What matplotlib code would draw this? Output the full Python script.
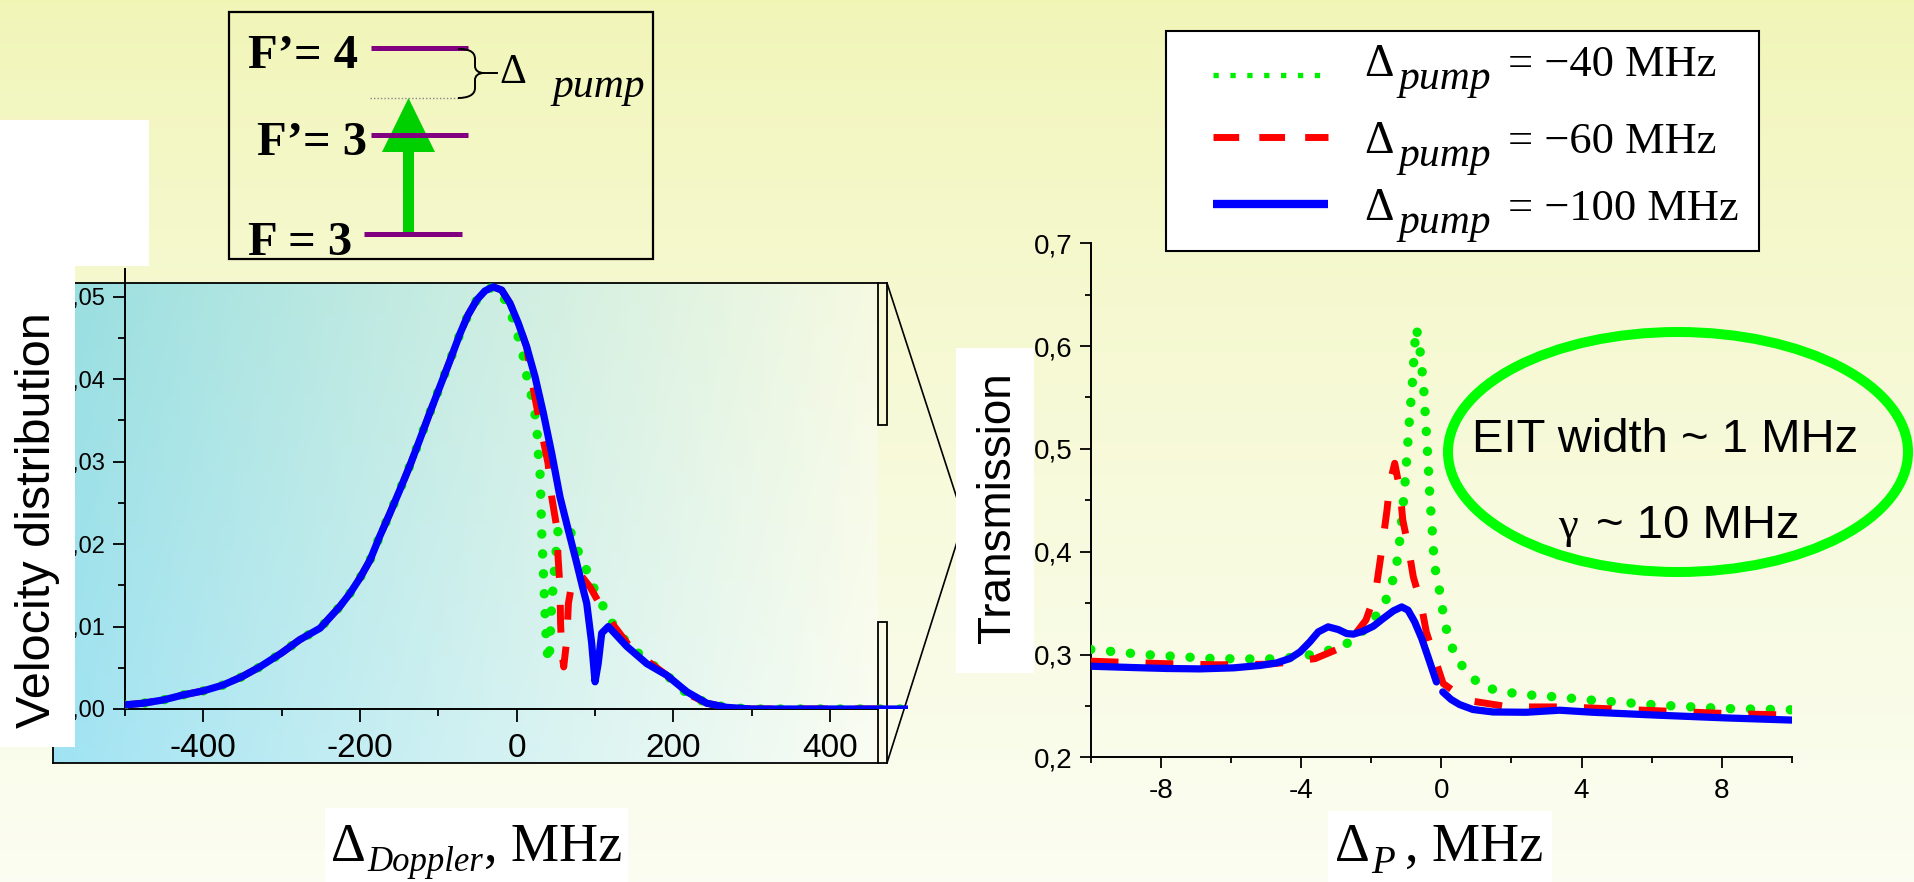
import numpy as np
import matplotlib
matplotlib.use("Agg")
import matplotlib.pyplot as plt
from matplotlib.patches import Rectangle, Ellipse, Polygon, PathPatch
from matplotlib.path import Path
from matplotlib.ticker import FixedLocator, FuncFormatter

W, H, DPI = 1915, 882, 100
SERIF = "Liberation Serif"
SANS = "Liberation Sans"

# ---------------- data ----------------
pump_detuning = [-40, -60, -100]                 # MHz, one per curve
series_color = ["#00ee00", "#ff0000", "#0000ff"]

# Doppler (velocity) distribution: common far wing, MHz / a.u.
wing_x = [-500, -477, -451, -426, -400, -375, -351, -328, -300, -277, -251, -226, -213, -200, -187, -175,
          -162, -149, -136, -124, -111, -98, -85, -72, -62, -51, -40.5, -30]
wing_y = [0.0005, 0.0007, 0.0011, 0.0017, 0.0022, 0.0029, 0.0039, 0.0051, 0.0068, 0.0084, 0.0098, 0.0124,
          0.0140, 0.0159, 0.0181, 0.0209, 0.0237, 0.0266, 0.0296, 0.0326, 0.0359, 0.0391, 0.0423, 0.0456,
          0.0478, 0.0496, 0.0507, 0.0512]

# hole-burnt part of the distribution for each pump detuning
dopp40_x = [-17, -6, 2, 8.5, 13, 19, 23.4, 26.3, 27.6, 29.8, 30.6, 32, 34, 36, 38.3, 41.6, 42.5, 44.7,
            48.9, 53.2, 68, 76.6, 87.2, 97.8, 110.6, 123.3, 142.5, 166, 191.5, 217, 242.6, 268, 300, 400, 500]
dopp40_y = [0.0500, 0.0476, 0.0451, 0.0427, 0.0403, 0.0379, 0.0357, 0.0332, 0.0310, 0.0286, 0.0262, 0.0213,
            0.0167, 0.0120, 0.0072, 0.0057, 0.0082, 0.0128, 0.0177, 0.0221, 0.0217, 0.0195, 0.0173, 0.0148,
            0.0124, 0.0102, 0.0078, 0.0059, 0.0041, 0.0019, 0.0007, 0.0002, 0.0, 0.0, 0.0]

dopp60_x = [-19.2, -8.6, 2, 12.8, 17, 23.4, 32, 40, 44.7, 51, 53, 55.3, 56, 57.4, 60, 64, 66, 72.3, 82,
            93.6, 112.7, 123.3, 142.5, 166, 191.5, 217, 242.6, 268, 300, 400, 500]
dopp60_y = [0.0508, 0.0492, 0.0468, 0.0439, 0.0411, 0.0377, 0.0335, 0.0298, 0.0257, 0.0221, 0.0181, 0.0147,
            0.0104, 0.0072, 0.0051, 0.0085, 0.0128, 0.0163, 0.0162, 0.0148, 0.0116, 0.0102, 0.0078, 0.0059,
            0.0041, 0.0019, 0.0007, 0.0002, 0.0, 0.0, 0.0]

dopp100_x = [-19.2, -8.6, 2, 12.8, 23.4, 34, 44.7, 55.3, 59.5, 68, 76.6, 83, 89.4, 95.7, 100, 104, 108.5,
             117, 140.4, 166, 191.5, 217, 242.6, 268, 300, 400, 500]
dopp100_y = [0.0508, 0.0492, 0.0468, 0.0439, 0.0403, 0.0359, 0.0310, 0.0257, 0.0241, 0.0209, 0.0177, 0.0152,
             0.0128, 0.0080, 0.0033, 0.0055, 0.0092, 0.0100, 0.0076, 0.0055, 0.0041, 0.0021, 0.0007, 0.0002,
             0.0, 0.0, 0.0]

# probe transmission vs probe detuning (MHz)
tr40_x = [-10, -8.5, -6.5, -5.0, -4.0, -3.0, -2.5, -2.04, -1.66, -1.47, -1.33, -1.23, -1.13, -1.04, -0.97,
          -0.90, -0.82, -0.76, -0.71, -0.59, -0.50, -0.44, -0.38, -0.33, -0.26, -0.20, -0.09, 0.10, 0.24,
          0.43, 0.81, 1.18, 1.81, 2.32, 3.27, 4.32, 6.22, 8.12, 10]
tr40_y = [0.3049, 0.3000, 0.2960, 0.2955, 0.2977, 0.3058, 0.3139, 0.3300, 0.3463, 0.3626, 0.3788, 0.3967,
          0.4307, 0.4648, 0.4990, 0.5330, 0.5670, 0.6010, 0.6180, 0.5913, 0.5572, 0.5230, 0.4890, 0.4550,
          0.4210, 0.3870, 0.3700, 0.3300, 0.3132, 0.2960, 0.2798, 0.2685, 0.2636, 0.2611, 0.2588, 0.2555,
          0.2507, 0.2474, 0.2462]

tr60_x = [-10, -8.0, -6.4, -5.0, -4.5, -3.6, -2.9, -2.5, -2.15, -1.88, -1.7, -1.55, -1.47, -1.33, -1.18,
          -1.1, -0.95, -0.8, -0.58, -0.43, -0.17, 0.05, 0.72, 1.94, 3.56, 5.27, 8.12, 10]
tr60_y = [0.2935, 0.2912, 0.2900, 0.2905, 0.2920, 0.2960, 0.3060, 0.3180, 0.3335, 0.3595, 0.4020, 0.4405,
          0.4664, 0.4860, 0.4600, 0.4307, 0.4064, 0.3755, 0.3496, 0.3220, 0.2945, 0.2718, 0.2555, 0.2490,
          0.2490, 0.2465, 0.2426, 0.2410]

tr100_x = [-10, -8.79, -7.83, -6.88, -5.93, -5.17, -4.70, -4.32, -4.03, -3.75, -3.51, -3.23, -2.94, -2.70,
           -2.51, -2.23, -1.94, -1.66, -1.37, -1.13, -0.95, -0.76, -0.56, -0.38, -0.14, np.nan,
           0.04, 0.28, 0.52, 0.90, 1.47, 2.42, 3.37, 4.32, 6.22, 8.12, 10]
tr100_y = [0.2886, 0.2873, 0.2864, 0.2860, 0.2870, 0.2893, 0.2918, 0.2961, 0.3025, 0.3123, 0.3220, 0.3269,
           0.3243, 0.3204, 0.3198, 0.3227, 0.3275, 0.3350, 0.3424, 0.3463, 0.3431, 0.3317, 0.3156, 0.2977,
           0.2733, np.nan, 0.2636, 0.2562, 0.2513, 0.2465, 0.2441, 0.2438, 0.2458, 0.2438, 0.2409, 0.2383,
           0.2362]

left_yticks = [0.0, 0.01, 0.02, 0.03, 0.04, 0.05]
left_xticks = [-400, -200, 0, 200, 400]
right_yticks = [0.2, 0.3, 0.4, 0.5, 0.6, 0.7]
right_xticks = [-8, -4, 0, 4, 8]

# ---------------- styles ----------------
line_styles = [
    dict(ls=(0, (0.01, 2.1)), lw=6.8, dash_capstyle="round"),
    dict(ls=(0, (4.0, 3.9)), lw=5.0, dash_capstyle="butt"),
    dict(ls="-", lw=5.2, solid_capstyle="round"),
]
key_styles = [
    dict(ls=(0, (1.0, 2.2)), lw=3.8, dash_capstyle="butt"),
    dict(ls=(0, (3.7, 2.9)), lw=5.0, dash_capstyle="butt"),
    dict(ls="-", lw=6.0, solid_capstyle="butt"),
]

plt.rcParams["axes.unicode_minus"] = False
plt.rcParams["font.family"] = [SANS, "DejaVu Sans"]

fig = plt.figure(figsize=(W / DPI, H / DPI), dpi=DPI)


def frac_rect(x0, y0, x1, y1):
    """pixel box (y downwards) -> figure fraction rect"""
    return [x0 / W, 1 - y1 / H, (x1 - x0) / W, (y1 - y0) / H]


page_top = np.array([0.945, 0.962, 0.715])
page_bot = np.array([0.986, 0.993, 0.950])


def page_color(y):
    t = (y / H) ** 0.8
    return tuple(page_top * (1 - t) + page_bot * t)


# ---------------- background canvas (pixel coordinates) ----------------
bg = fig.add_axes([0, 0, 1, 1], zorder=0)
bg.axis("off")
t = (np.linspace(0, 1, 256) ** 0.8)[:, None, None]
page = page_top * (1 - t) + page_bot * t
bg.imshow(page, extent=(0, W, H, 0), aspect="auto", interpolation="bilinear", zorder=0)

# shaded panel behind the Doppler plot
u = (np.linspace(0, 1, 300) ** 0.9)[None, :, None]
v = np.linspace(0, 1, 80)[:, None, None]
c_left = np.array([0.59, 0.87, 0.88]) * (1 - v) + np.array([0.625, 0.89, 0.955]) * v
c_right = np.array([0.965, 0.978, 0.885]) * (1 - v) + np.array([0.982, 0.992, 0.950]) * v
panel = c_left * (1 - u) + c_right * u
bg.imshow(panel, extent=(53, 878, 763, 283), aspect="auto", interpolation="bilinear", zorder=1)
for xs, ys in (([53, 878], [283, 283]), ([53, 878], [763, 763]), ([53, 53], [283, 763])):
    bg.plot(xs, ys, color="black", lw=1.3, zorder=2)

# axis-break bars and zoom lines
bg.add_patch(Rectangle((878, 283), 9, 142, fc=page_color(350), ec="black", lw=1.3, zorder=2))
bg.add_patch(Rectangle((878, 622), 9, 141, fc=page_color(690), ec="black", lw=1.3, zorder=2))
bg.plot([887, 964], [283, 520], color="black", lw=1.2, zorder=2)
bg.plot([887, 964], [763, 520], color="black", lw=1.2, zorder=2)

# energy level scheme
bg.add_patch(Rectangle((229, 12), 424, 247, fc="none", ec="black", lw=1.6, zorder=2))
bg.add_patch(Polygon([(403, 234), (403, 152), (382, 152), (408.5, 98), (435, 152), (414, 152), (414, 234)],
                     closed=True, fc="#00d000", ec="none", zorder=3))
for xs, y in (([371, 468], 48), ([371, 468], 135), ([364, 462], 234)):
    bg.plot(xs, [y, y], color="#800080", lw=3.6, solid_capstyle="butt", zorder=4)
bg.plot([370, 458], [98, 98], color="#888888", lw=1.0, ls=(0, (1, 1.5)), zorder=4)
brace = Path([(458, 49), (468, 49), (475, 51), (475, 59), (475, 66),
              (475, 70), (478, 73), (484, 73),
              (478, 73), (475, 76), (475, 80), (475, 88),
              (475, 95), (468, 98), (458, 98)],
             [Path.MOVETO, Path.CURVE4, Path.CURVE4, Path.CURVE4, Path.LINETO,
              Path.CURVE4, Path.CURVE4, Path.CURVE4,
              Path.CURVE4, Path.CURVE4, Path.CURVE4, Path.LINETO,
              Path.CURVE4, Path.CURVE4, Path.CURVE4])
bg.add_patch(PathPatch(brace, fc="none", ec="black", lw=1.4, zorder=4))
bg.plot([484, 497], [73, 73], color="black", lw=1.4, zorder=4)
bg.text(499, 83, "Δ", fontfamily=SERIF, fontsize=30, va="baseline", ha="left", zorder=5)
bg.text(552, 97, "pump", fontfamily=SERIF, fontstyle="italic", fontsize=30, va="baseline", ha="left", zorder=5)
for x, y, s in ((358, 68, "F’= 4"), (367, 155, "F’= 3"), (352, 255, "F = 3")):
    bg.text(x, y, s, fontfamily=SERIF, fontweight="bold", fontsize=35, ha="right", va="baseline", zorder=5)

bg.set_xlim(0, W)
bg.set_ylim(H, 0)

# ---------------- left plot: velocity distribution ----------------
axL = fig.add_axes(frac_rect(125, 283, 908.4, 709), zorder=2)
axL.patch.set_alpha(0)
axL.set_xlim(-500, 500)
axL.set_ylim(0, 0.05166)
dopp_x = [dopp40_x, dopp60_x, dopp100_x]
dopp_y = [dopp40_y, dopp60_y, dopp100_y]
for i in range(3):
    axL.plot(wing_x + dopp_x[i], wing_y + dopp_y[i], color=series_color[i], zorder=3 + i, **line_styles[i])
for s in ("top", "right"):
    axL.spines[s].set_visible(False)
axL.spines["left"].set_bounds(0, 0.0533)
axL.spines["bottom"].set_bounds(-500, 461.3)
for s in ("left", "bottom"):
    axL.spines[s].set_linewidth(1.4)
axL.xaxis.set_major_locator(FixedLocator(left_xticks))
axL.xaxis.set_minor_locator(FixedLocator([-500, -300, -100, 100, 300]))
axL.yaxis.set_major_locator(FixedLocator(left_yticks))
axL.yaxis.set_minor_locator(FixedLocator([0.005, 0.015, 0.025, 0.035, 0.045]))
axL.xaxis.set_major_formatter(FuncFormatter(lambda val, p: f"{val:.0f}"))
axL.yaxis.set_major_formatter(FuncFormatter(lambda val, p: f"{val:.2f}".replace(".", ",")))
axL.tick_params(axis="both", which="both", direction="out", width=1.3, colors="black")
axL.tick_params(axis="y", which="major", length=8.5, pad=6, labelsize=17)
axL.tick_params(axis="y", which="minor", length=5)
axL.tick_params(axis="x", which="major", length=9.5, pad=8, labelsize=24)
axL.tick_params(axis="x", which="minor", length=5)

# ---------------- right plot: transmission ----------------
axR = fig.add_axes(frac_rect(1090.7, 243.3, 1792, 757.3), zorder=2)
axR.patch.set_alpha(0)
axR.set_xlim(-10, 10)
axR.set_ylim(0.2, 0.7)
tr_x = [tr40_x, tr60_x, tr100_x]
tr_y = [tr40_y, tr60_y, tr100_y]
for i in range(3):
    axR.plot(tr_x[i], tr_y[i], color=series_color[i], zorder=3 + i, **line_styles[i])
for s in ("top", "right"):
    axR.spines[s].set_visible(False)
for s in ("left", "bottom"):
    axR.spines[s].set_linewidth(1.4)
axR.xaxis.set_major_locator(FixedLocator(right_xticks))
axR.xaxis.set_minor_locator(FixedLocator([-10, -6, -2, 2, 6, 10]))
axR.yaxis.set_major_locator(FixedLocator(right_yticks))
axR.yaxis.set_minor_locator(FixedLocator([0.25, 0.35, 0.45, 0.55, 0.65]))
axR.xaxis.set_major_formatter(FuncFormatter(lambda val, p: f"{val:.0f}"))
axR.yaxis.set_major_formatter(FuncFormatter(lambda val, p: f"{val:.1f}".replace(".", ",")))
axR.tick_params(axis="both", which="both", direction="out", width=1.3, colors="black")
axR.tick_params(axis="both", which="major", length=8, labelsize=20)
axR.tick_params(axis="both", which="minor", length=4)
axR.tick_params(axis="y", which="major", pad=5)
axR.tick_params(axis="x", which="major", pad=7)

# ---------------- overlay: labels, key, annotation ----------------
ov = fig.add_axes([0, 0, 1, 1], zorder=4)
ov.axis("off")
ov.patch.set_alpha(0)

for (x0, y0, x1, y1) in ((0, 120, 149, 266), (0, 266, 75, 747), (956, 348, 1034, 673),
                         (325, 808, 628, 882), (1328, 811, 1552, 882)):
    ov.add_patch(Rectangle((x0, y0), x1 - x0, y1 - y0, fc="white", ec="none", zorder=1))

ov.text(38, 520, "Velocity distribution", rotation=90, fontsize=35, fontfamily=SANS,
        ha="center", va="center", zorder=2)
ov.text(998, 508, "Transmission", rotation=90, fontsize=33, fontfamily=SANS,
        ha="center", va="center", zorder=2)

ov.text(331, 861, "Δ", fontfamily=SERIF, fontsize=39, va="baseline", zorder=2)
ov.text(367, 871, "Doppler", fontfamily=SERIF, fontstyle="italic", fontsize=25, va="baseline", zorder=2)
ov.text(484, 861, ", MHz", fontfamily=SERIF, fontsize=39, va="baseline", zorder=2)

ov.text(1335, 861, "Δ", fontfamily=SERIF, fontsize=39, va="baseline", zorder=2)
ov.text(1371, 873, "P", fontfamily=SERIF, fontstyle="italic", fontsize=28, va="baseline", zorder=2)
ov.text(1405, 861, ", MHz", fontfamily=SERIF, fontsize=39, va="baseline", zorder=2)

# key box
ov.add_patch(Rectangle((1166, 31), 593, 220, fc="white", ec="black", lw=1.5, zorder=1))
key_line_y = [75, 137, 204]
key_text_y = [76, 153, 220]
for i in range(3):
    ov.plot([1213, 1328], [key_line_y[i]] * 2, color=series_color[i], zorder=2, **key_styles[i])
    ov.text(1364, key_text_y[i], "Δ", fontfamily=SERIF, fontsize=33, va="baseline", zorder=2)
    ov.text(1398, key_text_y[i] + 13, "pump", fontfamily=SERIF, fontstyle="italic", fontsize=30,
            va="baseline", zorder=2)
    ov.text(1508, key_text_y[i], f"= −{abs(pump_detuning[i])} MHz", fontfamily=SERIF, fontsize=32,
            va="baseline", zorder=2)

# EIT annotation
ov.add_patch(Ellipse((1678, 452), 460, 240, fc="none", ec="#00ff00", lw=7.2, zorder=2))
ov.text(1665, 452, "EIT width ~ 1 MHz", fontfamily=SANS, fontsize=34, ha="center", va="baseline", zorder=3)
ov.text(1558, 538, "γ", fontfamily=SERIF, fontsize=32, ha="left", va="baseline", zorder=3)
ov.text(1596, 538, "~ 10 MHz", fontfamily=SANS, fontsize=34, ha="left", va="baseline", zorder=3)

ov.set_xlim(0, W)
ov.set_ylim(H, 0)

fig.savefig("out.png", dpi=DPI)
